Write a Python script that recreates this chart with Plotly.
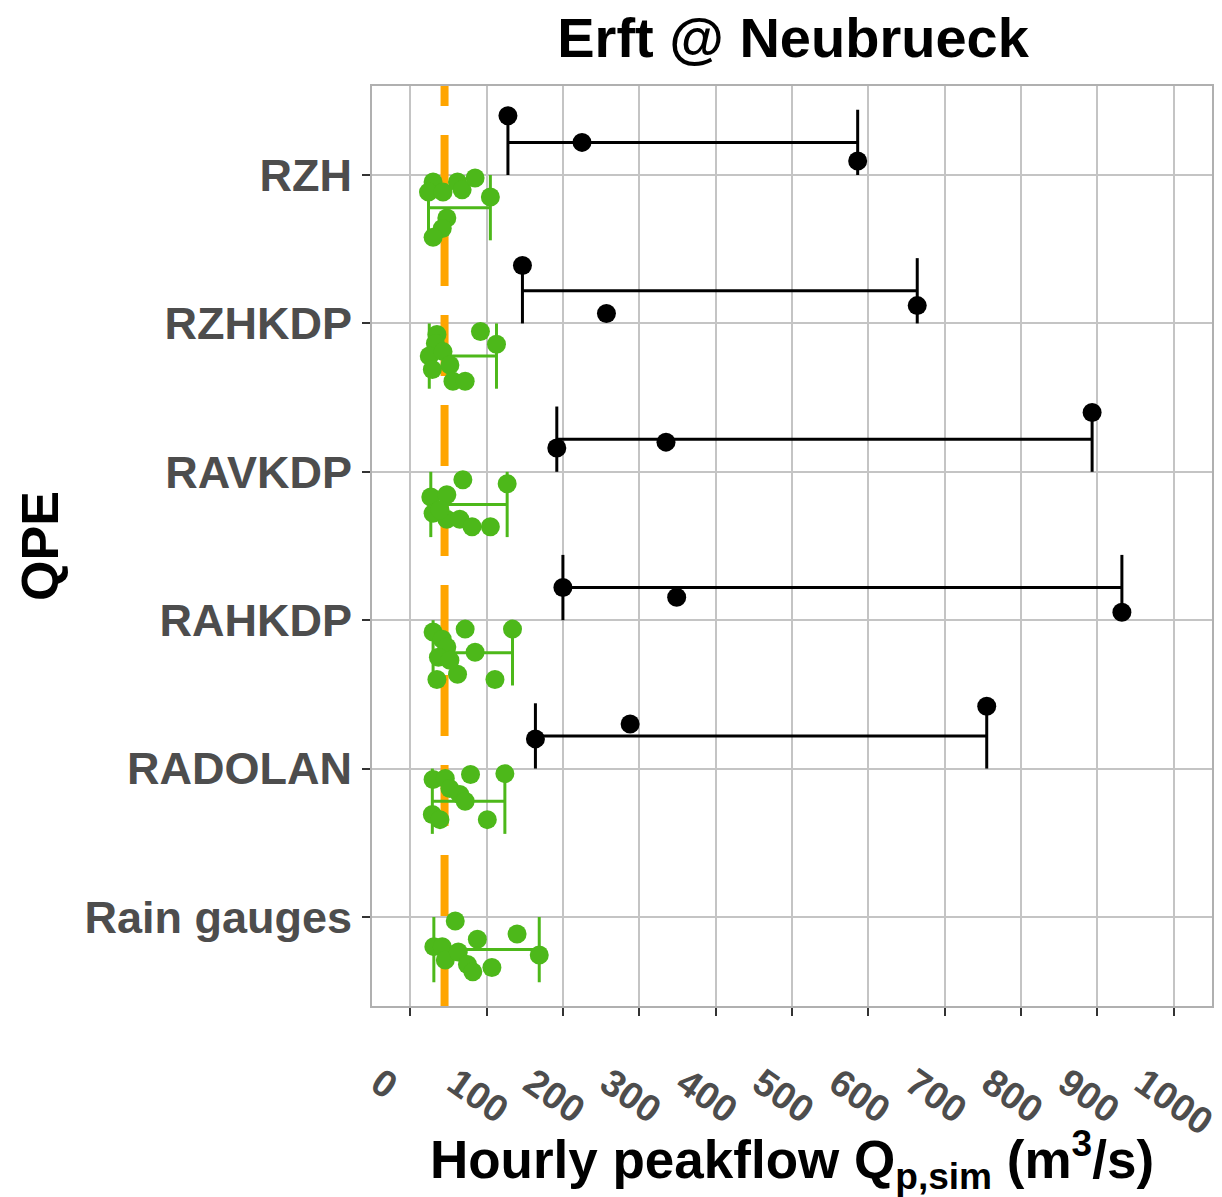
import plotly.graph_objects as go

# ---------------- data ----------------
categories = ["RZH", "RZHKDP", "RAVKDP", "RAHKDP", "RADOLAN", "Rain gauges"]
cat_pos = [6, 5, 4, 3, 2, 1]

# black series (peakflow values) and their vertical jitter
black_vals = {
    "RZH": [128, 225, 586],
    "RZHKDP": [147, 257, 664],
    "RAVKDP": [192, 335, 893],
    "RAHKDP": [200, 349, 932],
    "RADOLAN": [164, 288, 755],
}
black_jit = {
    "RZH": [0.40, 0.22, 0.095],
    "RZHKDP": [0.39, 0.067, 0.12],
    "RAVKDP": [0.16, 0.20, 0.40],
    "RAHKDP": [0.22, 0.155, 0.054],
    "RADOLAN": [0.20, 0.30, 0.42],
}

# green series (peakflow values) and their vertical jitter
green_vals = {
    "RZH": [30, 24, 43, 62, 68, 85, 105, 48, 42, 30],
    "RZHKDP": [35, 33, 25, 43, 29, 52, 56, 72, 92, 113],
    "RAVKDP": [27, 48, 69, 30, 48, 65, 81, 105, 127, 39],
    "RAHKDP": [30, 42, 48, 72, 85, 37, 62, 35, 111, 134, 52],
    "RADOLAN": [30, 46, 79, 65, 72, 29, 39, 101, 124, 52],
    "Rain gauges": [59, 88, 140, 31, 42, 46, 63, 75, 82, 107, 169],
}
green_jit = {
    "RZH": [-0.047, -0.115, -0.115, -0.047, -0.10, -0.02, -0.148, -0.29, -0.36, -0.42],
    "RZHKDP": [-0.074, -0.135, -0.22, -0.19, -0.31, -0.28, -0.39, -0.39, -0.054, -0.14],
    "RAVKDP": [-0.17, -0.155, -0.054, -0.28, -0.32, -0.32, -0.37, -0.37, -0.08, -0.256],
    "RAHKDP": [-0.08, -0.128, -0.18, -0.06, -0.216, -0.25, -0.364, -0.40, -0.40, -0.06, -0.27],
    "RADOLAN": [-0.074, -0.067, -0.04, -0.175, -0.22, -0.31, -0.344, -0.344, -0.034, -0.135],
    "Rain gauges": [-0.027, -0.15, -0.115, -0.20, -0.20, -0.29, -0.236, -0.32, -0.37, -0.34, -0.256],
}

observed_peak = 45
x_ticks = [0, 100, 200, 300, 400, 500, 600, 700, 800, 900, 1000]

# ---------------- styles ----------------
BLACK = "#000000"
GREEN = "#4DB81A"
ORANGE = "#FFA500"
DODGE = 0.22
WHISK = 0.22
pos = dict(zip(categories, cat_pos))

fig = go.Figure()

# orange dashed reference line (drawn first so points lie on top)
fig.add_trace(go.Scatter(
    x=[observed_peak, observed_peak], y=[6.876, 0.0], mode="lines",
    line=dict(color=ORANGE, width=8, dash="61px,29px"),
    hoverinfo="skip", showlegend=False))


def add_group(vals, jit, color, sign):
    ex, ey = [], []
    px, py = [], []
    for cat, v in vals.items():
        c = pos[cat] + sign * DODGE
        lo, hi = min(v), max(v)
        ex += [lo, hi, None, lo, lo, None, hi, hi, None]
        ey += [c, c, None, c - WHISK, c + WHISK, None, c - WHISK, c + WHISK, None]
        px += v
        py += [pos[cat] + j for j in jit[cat]]
    fig.add_trace(go.Scatter(x=ex, y=ey, mode="lines",
                             line=dict(color=color, width=3),
                             hoverinfo="skip", showlegend=False))
    fig.add_trace(go.Scatter(x=px, y=py, mode="markers",
                             marker=dict(color=color, size=19, line=dict(width=0)),
                             showlegend=False))


add_group(green_vals, green_jit, GREEN, -1)
add_group(black_vals, black_jit, BLACK, +1)

FONT = "Liberation Sans, Arial, sans-serif"
fig.update_layout(
    width=1222, height=1197,
    margin=dict(l=372, r=10, t=86, b=191),
    paper_bgcolor="white", plot_bgcolor="white",
    font=dict(family=FONT),
    title=dict(text="Erft @ Neubrueck", x=0.649, xanchor="center", y=0.969, yanchor="middle",
               font=dict(size=56, color="black", weight="bold")),
    xaxis=dict(
        range=[-50, 1050], tickvals=x_ticks, ticktext=[str(t) for t in x_ticks],
        tickangle=35, ticklabelshift=-31, ticklabelstandoff=30,
        ticklabeloverflow="allow", automargin=False,
        tickfont=dict(size=38, color="#4D4D4D", weight="bold"),
        showgrid=True, gridcolor="#C4C4C4", gridwidth=2,
        showline=True, mirror=True, linecolor="#B0B0B0", linewidth=2,
        ticks="outside", ticklen=8, tickwidth=2, tickcolor="#333333",
        zeroline=False,
        title=dict(text="Hourly peakflow Q<sub>p,sim</sub> (m<sup>3</sup>/s)",
                   font=dict(size=53, color="black", weight="bold"), standoff=2),
    ),
    yaxis=dict(
        range=[0.4, 6.6], tickvals=cat_pos, ticktext=categories, automargin=False,
        tickfont=dict(size=45, color="#4D4D4D", weight="bold"),
        showgrid=True, gridcolor="#C4C4C4", gridwidth=2,
        showline=True, mirror=True, linecolor="#B0B0B0", linewidth=2,
        ticks="outside", ticklen=8, tickwidth=2, tickcolor="#333333",
        ticklabelstandoff=1, zeroline=False,
        title=dict(text="QPE", font=dict(size=52, color="black", weight="bold"), standoff=9),
    ),
)

fig.write_html("out.html")
